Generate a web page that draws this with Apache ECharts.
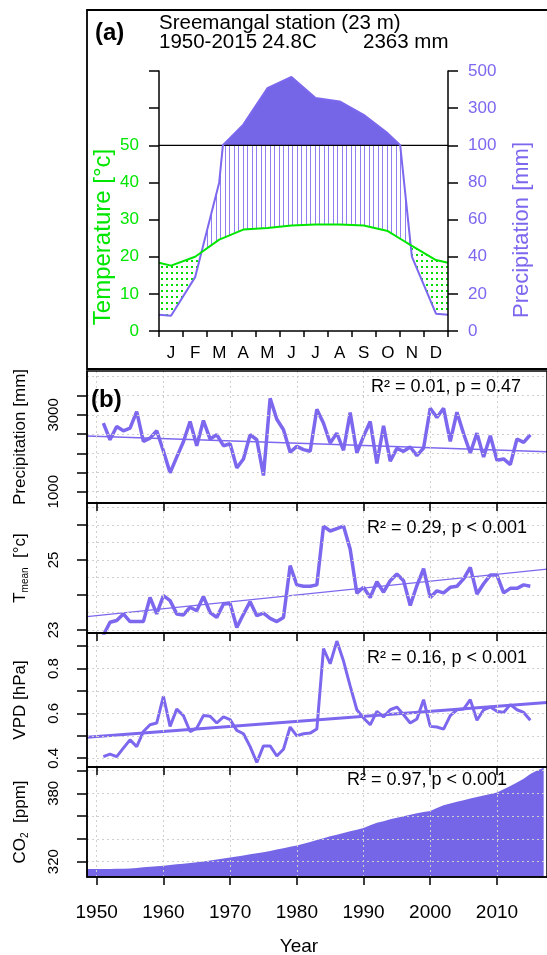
<!DOCTYPE html>
<html><head><meta charset="utf-8">
<script src="https://cdn.jsdelivr.net/npm/echarts@6/dist/echarts.min.js"></script>
<style>html,body{margin:0;padding:0;background:#fff}#c{width:547px;height:955px}</style>
</head><body><div id="c"></div>
<script>
const FONT = '"Liberation Sans", Arial, sans-serif';
const PURPLE = '#7B68EE';
const FILL = '#7466e6';
const GREEN = '#00e600';

// ---------- Panel (a): climate diagram ----------
const monthLabels = ['J','F','M','A','M','J','J','A','S','O','N','D'];
const monthTemp = [17.6, 20.0, 24.6, 27.3, 27.7, 28.4, 28.7, 28.7, 28.4, 26.9, 22.9, 19.1];
const monthPrec = [8.2, 29, 80, 211, 407, 468, 354, 336, 264, 164, 40, 9.3];
const rightTickLabels = {0:'0',10:'20',20:'40',30:'60',40:'80',50:'100',60:'300',70:'500'};

// ---------- Panel (b): annual series ----------
const years = [1951,1952,1953,1954,1955,1956,1957,1958,1959,1960,1961,1962,1963,1964,1965,1966,1967,1968,1969,1970,
1971,1972,1973,1974,1975,1976,1977,1978,1979,1980,1981,1982,1983,1984,1985,1986,1987,1988,1989,1990,
1991,1992,1993,1994,1995,1996,1997,1998,1999,2000,2001,2002,2003,2004,2005,2006,2007,2008,2009,2010,
2011,2012,2013,2014,2015];
const annualPrecip = [2784,2353,2698,2586,2655,3086,2310,2396,2586,2060,
1491,1900,2300,2827,2198,2853,2371,2483,2198,2250,
1621,1853,2483,2353,1422,3431,2888,2612,2026,2181,
2095,2052,3146,2784,2267,2526,2078,3060,2009,2440,
2827,1733,2715,1793,2129,2052,2164,1940,2138,3172,
2931,3172,2310,3069,2509,2009,2526,1905,2457,1819,
1853,1707,2371,2284,2483];
const annualTmean = [22.85,23.22,23.27,23.46,23.24,23.24,23.24,23.93,23.46,23.98,
23.84,23.46,23.43,23.65,23.55,23.96,23.50,23.36,23.74,23.76,
23.07,23.45,23.81,23.41,23.48,23.33,23.24,23.36,24.84,24.29,
24.25,24.25,24.29,25.97,25.83,25.90,25.97,25.31,24.05,24.22,
23.93,24.38,24.08,24.41,24.60,24.41,23.70,24.27,24.75,23.93,
24.12,24.06,24.22,24.25,24.46,24.79,24.03,24.32,24.57,24.57,
24.06,24.19,24.19,24.29,24.25];
const annualVPD = [0.407,0.418,0.407,0.445,0.482,0.452,0.519,0.549,0.557,0.676,
0.542,0.619,0.590,0.519,0.534,0.590,0.587,0.557,0.584,0.572,
0.524,0.509,0.452,0.381,0.455,0.455,0.410,0.440,0.539,0.500,
0.509,0.512,0.530,0.888,0.821,0.922,0.833,0.721,0.616,0.579,
0.549,0.609,0.584,0.616,0.628,0.594,0.557,0.575,0.661,0.542,
0.539,0.530,0.590,0.616,0.619,0.661,0.569,0.616,0.628,0.609,
0.604,0.639,0.616,0.604,0.569];
const co2Years = [1948,1949,1950,1951,1952,1953,1954,1955,1956,1957,1958,1959,1960,1961,1962,1963,1964,1965,1966,1967,
1968,1969,1970,1971,1972,1973,1974,1975,1976,1977,1978,1979,1980,1981,1982,1983,1984,1985,1986,1987,
1988,1989,1990,1991,1992,1993,1994,1995,1996,1997,1998,1999,2000,2001,2002,2003,2004,2005,2006,2007,
2008,2009,2010,2011,2012,2013,2014,2015,2016,2017];
const co2 = [313.4,313.5,313.5,313.5,313.6,313.7,313.8,314.0,314.5,315.0,315.5,316.0,316.4,317.0,317.6,318.2,318.8,319.4,320.2,321.0,
321.8,322.7,323.6,324.5,325.4,326.4,327.3,328.3,329.4,330.6,331.8,333.0,334.2,335.7,337.3,338.9,340.6,342.2,343.7,345.2,
346.6,348.1,349.6,352.0,354.1,355.5,357.2,358.5,359.8,361.1,362.4,363.5,364.4,367.0,369.5,371.0,372.5,374.0,375.4,376.7,
378.0,379.4,380.7,383.5,386.5,389.5,392.8,397.0,400.0,402.5];
const trendYears = [1948.55, 2017.5];
const precipTrend = [2450, 2040];
const tmeanTrend = [23.38, 24.74];
const vpdTrend = [0.494, 0.648];
const decadeTicks = [1950,1960,1970,1980,1990,2000,2010];

// ---------- geometry for the climate diagram ----------
function buildClimate(){
  const eT = (monthTemp[0] + monthTemp[11]) / 2;
  const eP = (monthPrec[0] + monthPrec[11]) / 2;
  const X = [0], T = [eT], P = [eP];
  for (let i = 0; i < 12; i++){ X.push(i + 0.5); T.push(monthTemp[i]); P.push(monthPrec[i]); }
  X.push(12); T.push(eT); P.push(eP);
  // add points where precipitation crosses 100 mm (scale change)
  const X2=[X[0]], T2=[T[0]], P2=[P[0]];
  for (let i = 1; i < X.length; i++){
    const p0 = P[i-1], p1 = P[i];
    if ((p0-100)*(p1-100) < 0){
      const f = (100-p0)/(p1-p0);
      X2.push(X[i-1]+f*(X[i]-X[i-1])); T2.push(T[i-1]+f*(T[i]-T[i-1])); P2.push(100);
    }
    X2.push(X[i]); T2.push(T[i]); P2.push(P[i]);
  }
  const disp = p => p <= 100 ? p/2 : 50 + (p-100)/20;
  const D = P2.map(disp);
  // add points where temperature and precipitation curves cross
  const X3=[X2[0]], T3=[T2[0]], D3=[D[0]];
  for (let i = 1; i < X2.length; i++){
    const a0 = D[i-1]-T2[i-1], a1 = D[i]-T2[i];
    if (a0*a1 < 0){
      const f = a0/(a0-a1);
      const xc = X2[i-1]+f*(X2[i]-X2[i-1]);
      const tc = T2[i-1]+f*(T2[i]-T2[i-1]);
      X3.push(xc); T3.push(tc); D3.push(tc);
    }
    X3.push(X2[i]); T3.push(T2[i]); D3.push(D[i]);
  }
  return {X:X3, T:T3, D:D3};
}
const clim = buildClimate();
const pairs = arr => clim.X.map((x,i)=>[x, arr[i]]);
const precDisp = pairs(clim.D);
const precCap = pairs(clim.D.map(v=>Math.min(v,50)));
const tempLine = pairs(clim.T);
const lowEnv = pairs(clim.T.map((t,i)=>Math.min(t, Math.min(clim.D[i],50))));

function linePattern(){
  const c=document.createElement('canvas'); c.width=9; c.height=4;
  const g=c.getContext('2d'); g.fillStyle='#fff'; g.fillRect(0,0,9,4);
  g.fillStyle='#8e80f0'; g.fillRect(0,0,1,4); g.fillRect(4,0,1,4);
  return c;
}
function dotPattern(){
  const c=document.createElement('canvas'); c.width=5; c.height=6;
  const g=c.getContext('2d'); g.fillStyle='#fff'; g.fillRect(0,0,5,6);
  g.fillStyle='#00dd00'; g.fillRect(1,2,2,2);
  return c;
}

// ---------- helpers ----------
const BLK = {color:'#000', width:1.5};
function txt(x,y,text,size,o){
  o=o||{};
  return {type:'text', x:x, y:y, rotation:o.rot||0, z:100,
    style:{text:text, fill:o.color||'#000', fontSize:size, fontFamily:FONT, fontWeight:o.bold?'bold':'normal',
      align:o.align||'left', textAlign:o.align||'left', verticalAlign:'middle', textVerticalAlign:'middle', rich:o.rich}};
}
function gridLinesML(yVals){
  const d = yVals.map(v=>({yAxis:v})).concat(decadeTicks.concat([2020]).map(v=>({xAxis:v})));
  return {silent:true, symbol:['none','none'], label:{show:false}, animation:false,
    lineStyle:{color:'#cfcfcf', width:1, type:[2,3]}, emphasis:{disabled:true}, data:d};
}
function bGrid(top,h){ return {left:87, top:top, right:-7, height:h, show:true, borderColor:'#000', borderWidth:1.5, z:10}; }
function bX(gi, last){
  return {type:'value', gridIndex:gi, min:1948.55, max:2017.5, z:10,
    axisLine:{show:true, lineStyle:BLK},
    axisTick:{show:true, inside:false, length:8, customValues:decadeTicks, lineStyle:BLK},
    axisLabel:{show:!!last, customValues:decadeTicks, fontSize:19, color:'#000', margin:26, fontFamily:FONT, formatter:v=>String(v)},
    splitLine:{show:false}};
}
function bY(gi,min,max,ticks,labels){
  return {type:'value', gridIndex:gi, min:min, max:max, z:10,
    axisLine:{show:true, lineStyle:BLK},
    axisTick:{show:true, inside:false, length:10, customValues:ticks, lineStyle:BLK},
    axisLabel:{show:true, customValues:labels, rotate:90, fontSize:15, color:'#000', margin:26, fontFamily:FONT, formatter:v=>String(v)},
    splitLine:{show:false}};
}
function ser(xi, yi, data, extra){
  return Object.assign({type:'line', xAxisIndex:xi, yAxisIndex:yi, data:data, symbol:'none', showSymbol:false,
    silent:true, animation:false}, extra);
}
const yr = (ys, vs) => ys.map((y,i)=>[y, vs[i]]);

const chart = echarts.init(document.getElementById('c'), null, {renderer:'canvas'});
const option = {
  animation:false,
  textStyle:{fontFamily:FONT},
  grid:[
    {left:159, top:71, width:289, height:260},
    bGrid(371,132), bGrid(503,130), bGrid(633,134), bGrid(767,110)
  ],
  xAxis:[
    {type:'value', gridIndex:0, min:0, max:12, interval:1, z:10,
      axisLine:{lineStyle:BLK}, axisTick:{length:6, lineStyle:BLK},
      axisLabel:{customValues:[0.5,1.5,2.5,3.5,4.5,5.5,6.5,7.5,8.5,9.5,10.5,11.5],
        formatter:v=>monthLabels[Math.floor(v)], fontSize:17, color:'#000', margin:14, fontFamily:FONT},
      splitLine:{show:false}},
    bX(1,false), bX(2,false), bX(3,false), bX(4,true)
  ],
  yAxis:[
    {type:'value', gridIndex:0, min:0, max:70, interval:10, z:10,
      axisLine:{show:true, lineStyle:BLK}, axisTick:{show:true, length:10, lineStyle:BLK},
      axisLabel:{color:GREEN, fontSize:17, margin:20, fontFamily:FONT, formatter:v=> v<=50 ? String(v) : ''},
      splitLine:{show:false}},
    {type:'value', gridIndex:0, position:'right', min:0, max:70, interval:10, z:10,
      axisLine:{show:true, lineStyle:BLK}, axisTick:{show:true, length:10, lineStyle:BLK},
      axisLabel:{color:PURPLE, fontSize:17, margin:20, fontFamily:FONT, formatter:v=> rightTickLabels[Math.round(v)]},
      splitLine:{show:false}},
    bY(1, 706, 4143, [1000,1500,2000,2500,3000,3500], [1000,3000]),
    bY(2, 22.914, 26.63, [23,24,25,26], [23,25]),
    bY(3, 0.361, 0.958, [0.4,0.5,0.6,0.7,0.8,0.9], [0.4,0.6,0.8]),
    bY(4, 306.5, 403.1, [320,340,360,380,400], [320,380])
  ],
  series:[
    // panel (a)
    ser(0,0,precDisp,{lineStyle:{width:0}, areaStyle:{color:FILL, opacity:1}}),
    ser(0,0,precCap,{lineStyle:{width:0}, areaStyle:{color:{image:linePattern(), repeat:'repeat'}, opacity:1}}),
    ser(0,0,tempLine,{lineStyle:{width:0}, areaStyle:{color:{image:dotPattern(), repeat:'repeat'}, opacity:1}}),
    ser(0,0,lowEnv,{lineStyle:{width:0}, areaStyle:{color:'#ffffff', opacity:1}}),
    ser(0,0,[[0,50],[12,50]],{lineStyle:{color:'#000', width:1.2}}),
    ser(0,0,precDisp,{lineStyle:{color:PURPLE, width:2}}),
    ser(0,0,tempLine,{lineStyle:{color:GREEN, width:2}}),
    // panel (b) precipitation
    ser(1,2,yr(years,annualPrecip),{lineStyle:{color:PURPLE, width:3.5}}),
    ser(1,2,yr(trendYears,precipTrend),{lineStyle:{color:PURPLE, width:1.5}, markLine:gridLinesML([1000,1500,2000,2500,3000,3500,4000])}),
    // Tmean
    ser(2,3,yr(years,annualTmean),{lineStyle:{color:PURPLE, width:3.5}}),
    ser(2,3,yr(trendYears,tmeanTrend),{lineStyle:{color:PURPLE, width:1.3}, markLine:gridLinesML([23,23.5,24,24.5,25,25.5,26,26.5])}),
    // VPD
    ser(3,4,yr(years,annualVPD),{lineStyle:{color:PURPLE, width:3}}),
    ser(3,4,yr(trendYears,vpdTrend),{lineStyle:{color:PURPLE, width:3}, markLine:gridLinesML([0.4,0.5,0.6,0.7,0.8,0.9])}),
    // CO2
    ser(4,5,yr(co2Years,co2),{lineStyle:{width:0}, areaStyle:{color:FILL, opacity:1, origin:'start'}, markLine:gridLinesML([320,340,360,380,400])})
  ],
  graphic:[
    {type:'rect', z:90, shape:{x:87, y:10, width:480, height:359}, style:{fill:'none', stroke:'#000', lineWidth:1.8}},
    txt(95,33,'(a)',24,{bold:true}),
    txt(159,23,'Sreemangal station (23 m)',20.5),
    txt(159,42,'1950-2015',20.5),
    txt(262,42,'24.8C',20.5),
    txt(363,42,'2363 mm',20.5),
    txt(103,237,'Temperature [°c]',24,{rot:Math.PI/2, align:'center', color:GREEN}),
    txt(522,230,'Precipitation [mm]',22,{rot:Math.PI/2, align:'center', color:PURPLE}),
    txt(91,400,'(b)',24,{bold:true}),
    txt(446,387,'R² = 0.01, p = 0.47',18,{align:'center'}),
    txt(447,528,'R² = 0.29, p < 0.001',18,{align:'center'}),
    txt(447,658,'R² = 0.16, p < 0.001',18,{align:'center'}),
    txt(427,780,'R² = 0.97, p < 0.001',18,{align:'center'}),
    txt(20,437,'Precipitation [mm]',17,{rot:Math.PI/2, align:'center'}),
    txt(20,568,'{t|T}{s|mean}{t|  [°c]}',17,{rot:Math.PI/2, align:'center',
      rich:{t:{fontSize:17, fontFamily:FONT, lineHeight:20, verticalAlign:'middle'}, s:{fontSize:10, fontFamily:FONT, lineHeight:10, verticalAlign:'bottom'}}}),
    txt(20,700,'VPD [hPa]',17,{rot:Math.PI/2, align:'center'}),
    txt(20,822,'{t|CO}{s|2}{t|  [ppm]}',17,{rot:Math.PI/2, align:'center',
      rich:{t:{fontSize:17, fontFamily:FONT, lineHeight:20, verticalAlign:'middle'}, s:{fontSize:10, fontFamily:FONT, lineHeight:10, verticalAlign:'bottom'}}}),
    txt(299,947,'Year',19,{align:'center'})
  ]
};
chart.setOption(option);
</script>
</body></html>
